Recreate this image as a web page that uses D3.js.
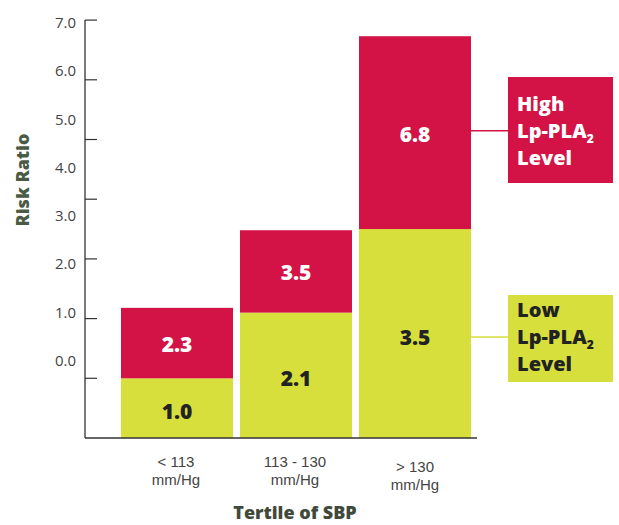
<!DOCTYPE html>
<html><head><meta charset="utf-8">
<script src="https://cdn.jsdelivr.net/npm/d3@7"></script>
<style>
html,body{margin:0;padding:0;background:#fff;}
svg{display:block;font-family:"Open Sans","Noto Sans",sans-serif;}
</style></head>
<body><svg id="c" width="619" height="525"></svg>
<script>
const categories = [["< 113","mm/Hg"],["113 - 130","mm/Hg"],["> 130","mm/Hg"]];
const lowValues = [1.0, 2.1, 3.5];
const highValues = [2.18, 3.48, 6.73];
const lowLabels = ["1.0","2.1","3.5"];
const highLabels = ["2.3","3.5","6.8"];
const tickValues = [1,2,3,4,5,6,7];
const tickLabels = ["0.0","1.0","2.0","3.0","4.0","5.0","6.0","7.0"];

const RED = "#D31245", YEL = "#D7DF3D";
const svg = d3.select("#c");

const x = d3.scaleBand().domain(d3.range(categories.length)).range([121, 471]).paddingInner(7/119).paddingOuter(0);
const y = d3.scaleLinear().domain([0, 7]).range([438, 20.1]);
const yLab = d3.scaleLinear().domain([0, 7]).range([360, 22]);

// bars
const g = svg.append("g");
g.selectAll("rect.low").data(lowValues).join("rect")
  .attr("x", (d,i)=>x(i)).attr("width", x.bandwidth())
  .attr("y", d=>y(d)).attr("height", d=>y(0)-y(d)).attr("fill", YEL);
g.selectAll("rect.high").data(highValues).join("rect")
  .attr("x", (d,i)=>x(i)).attr("width", x.bandwidth())
  .attr("y", d=>y(d)).attr("height", (d,i)=>y(lowValues[i])-y(d)).attr("fill", RED);

// value labels
g.selectAll("text.lowl").data(lowLabels).join("text")
  .attr("x", (d,i)=>x(i)+x.bandwidth()/2)
  .attr("y", (d,i)=>(y(0)+y(lowValues[i]))/2 + 3)
  .attr("text-anchor","middle").attr("dominant-baseline","central")
  .attr("font-size",21).attr("font-weight",800).attr("fill","#222").text(d=>d);
g.selectAll("text.highl").data(highLabels).join("text")
  .attr("x", (d,i)=>x(i)+x.bandwidth()/2)
  .attr("y", (d,i)=>(y(lowValues[i])+y(highValues[i]))/2 + 1)
  .attr("text-anchor","middle").attr("dominant-baseline","central")
  .attr("font-size",21).attr("font-weight",800).attr("fill","#fff").text(d=>d);

// y axis
const ax = svg.append("g").attr("transform","translate(85,0)");
ax.append("line").attr("x1",0).attr("x2",0).attr("y1",y(7)).attr("y2",y(0)).attr("stroke","#333").attr("stroke-width",1.3);
ax.selectAll("line.t").data(tickValues).join("line")
  .attr("x1",0).attr("x2",12).attr("y1",d=>y(d)).attr("y2",d=>y(d)).attr("stroke","#333").attr("stroke-width",1.2);
ax.selectAll("text").data(tickLabels).join("text")
  .attr("x",-9).attr("y",(d,i)=>yLab(i)).attr("dominant-baseline","central")
  .attr("text-anchor","end").attr("font-size",15).attr("fill","#444").text(d=>d);

// baseline
svg.append("line").attr("x1",85).attr("x2",477).attr("y1",y(0)).attr("y2",y(0)).attr("stroke","#333").attr("stroke-width",1.5);

// category labels
const catDy = [0,0,5];
categories.forEach((c,i)=>{
  const t = svg.append("text").attr("text-anchor","middle").attr("font-size",15)
    .attr("font-family","'Liberation Sans',Arial,sans-serif").attr("fill","#444")
    .attr("transform",`translate(${x(i)+x.bandwidth()/2 + [ -1, -1, 0][i]},${467+catDy[i]})`);
  t.append("tspan").attr("x",0).attr("y",0).text(c[0]);
  t.append("tspan").attr("x",0).attr("y",17.5).text(c[1]);
});

// axis titles
svg.append("text").attr("x",295).attr("y",519).attr("text-anchor","middle")
  .attr("font-size",18).attr("font-weight",800).attr("fill","#3f4a3b").text("Tertile of SBP");
svg.append("text").attr("transform","translate(29,180) rotate(-90)").attr("text-anchor","middle")
  .attr("font-size",18).attr("font-weight",800).attr("fill","#4a5a44").text("Risk Ratio");

// legend
function legend(top, bottom, lineY, fill, txt, lines, base){
  svg.append("line").attr("x1",471).attr("x2",509).attr("y1",lineY).attr("y2",lineY).attr("stroke",fill).attr("stroke-width",1.5);
  svg.append("rect").attr("x",508).attr("y",top).attr("width",105).attr("height",bottom-top).attr("fill",fill);
  lines.forEach((l,k)=>{
    const t = svg.append("text").attr("x",517).attr("y",base+k*27).attr("font-size",20).attr("font-weight",800).attr("fill",txt);
    if (l === "LP") {
      t.append("tspan").text("Lp-PLA");
      t.append("tspan").attr("font-size",12).attr("dy",5).text("2");
    } else t.text(l);
  });
}
legend(77, 183, 130.7, RED, "#fff", ["High","LP","Level"], 111);
legend(295, 382, 337, YEL, "#222", ["Low","LP","Level"], 317);
</script></body></html>
